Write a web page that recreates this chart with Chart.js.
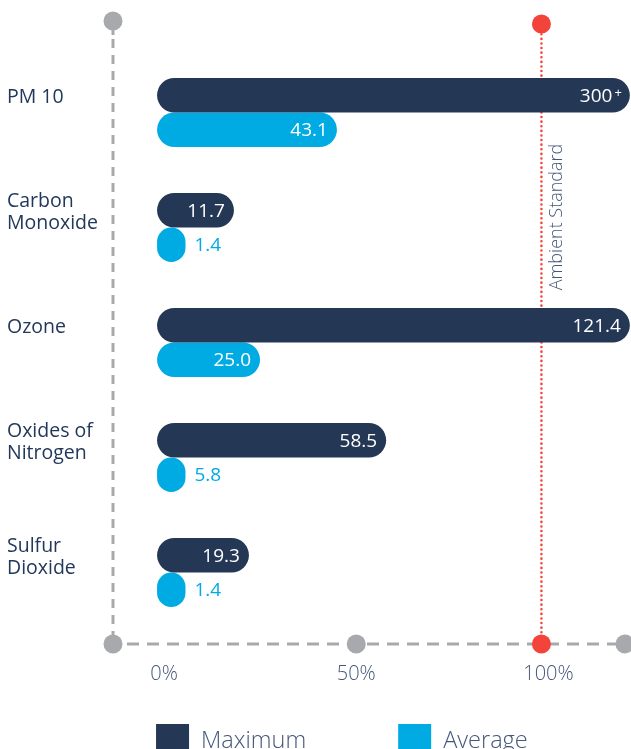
<!DOCTYPE html>
<html>
<head>
<meta charset="utf-8">
<script src="https://cdn.jsdelivr.net/npm/chart.js@4/dist/chart.umd.min.js"></script>
<style>
  html, body { margin: 0; padding: 0; background: #ffffff; overflow: hidden; }
  canvas { display: block; }
</style>
</head>
<body>
<canvas id="myChart" width="631" height="749"></canvas>
<script>
// Datos del gráfico (porcentaje del estándar ambiental)
const categorias = ['PM 10', ['Carbon', 'Monoxide'], 'Ozone', ['Oxides of', 'Nitrogen'], ['Sulfur', 'Dioxide']];
const maximoPct = [123, 20, 123, 59.6, 23.9];
const promedioPct = [46.8, 7.4, 26.8, 7.4, 7.4];
const maximoEtiquetas = ['300+', '11.7', '121.4', '58.5', '19.3'];
const promedioEtiquetas = ['43.1', '1.4', '25.0', '5.8', '1.4'];
const ticksX = [0, 50, 100];
const estandar = 100;

const azulOscuro = '#243856';
const cian = '#00abe4';
const gris = '#a7a9ac';
const rojo = '#f4433a';
const textoGris = '#45577a';

// Plugin para ejes punteados, puntos y etiquetas
const decoracion = {
    id: 'decoracion',
    beforeDatasetsDraw(chart) {
        const ctx = chart.ctx;
        const area = chart.chartArea;
        const x = chart.scales.x;
        const ejeX = area.left - 1;
        const arriba = area.top - 34;
        const abajo = area.bottom + 14;
        const xEstandar = x.getPixelForValue(estandar);

        ctx.save();
        ctx.strokeStyle = gris;
        ctx.lineWidth = 3;
        // eje vertical
        ctx.setLineDash([9, 7]);
        ctx.beginPath();
        ctx.moveTo(ejeX, arriba + 18);
        ctx.lineTo(ejeX, abajo);
        ctx.stroke();
        ctx.setLineDash([]);
        ctx.beginPath();
        ctx.moveTo(ejeX, arriba);
        ctx.lineTo(ejeX, arriba + 14);
        ctx.stroke();
        // eje horizontal
        ctx.setLineDash([12, 8]);
        ctx.beginPath();
        ctx.moveTo(ejeX + 14, abajo);
        ctx.lineTo(area.right, abajo);
        ctx.stroke();

        // linea del estandar (punteada roja)
        ctx.strokeStyle = rojo;
        ctx.lineWidth = 2.5;
        ctx.lineCap = 'round';
        ctx.setLineDash([0.1, 4.5]);
        ctx.beginPath();
        ctx.moveTo(xEstandar, arriba + 4);
        ctx.lineTo(xEstandar, abajo);
        ctx.stroke();
        ctx.setLineDash([]);

        // puntos
        const punto = (px, py, color) => {
            ctx.fillStyle = color;
            ctx.beginPath();
            ctx.arc(px, py, 9.5, 0, Math.PI * 2);
            ctx.fill();
        };
        punto(ejeX, arriba, gris);
        punto(ejeX, abajo, gris);
        punto(x.getPixelForValue(50) + 7, abajo, gris);
        punto(area.right - 6, abajo, gris);
        punto(xEstandar, arriba + 3, rojo);
        punto(xEstandar, abajo, rojo);
        ctx.restore();
    },
    afterDatasetsDraw(chart) {
        const ctx = chart.ctx;
        const area = chart.chartArea;
        const x = chart.scales.x;
        ctx.save();
        ctx.textBaseline = 'middle';
        const etiquetas = [maximoEtiquetas, promedioEtiquetas];
        chart.data.datasets.forEach((ds, i) => {
            chart.getDatasetMeta(i).data.forEach((barra, j) => {
                const texto = etiquetas[i][j];
                ctx.font = '400 19px "Open Sans", sans-serif';
                let ancho = ctx.measureText(texto).width;
                const fin = Math.min(barra.x, area.right);
                if (fin - barra.base > ancho + 22) {
                    ctx.fillStyle = '#ffffff';
                    ctx.textAlign = 'right';
                    if (texto.endsWith('+')) {
                        ctx.font = '400 13px "Open Sans", sans-serif';
                        ctx.fillText('+', fin - 8, barra.y - 2);
                        const anchoMas = ctx.measureText('+').width;
                        ctx.font = '400 19px "Open Sans", sans-serif';
                        ctx.fillText(texto.slice(0, -1), fin - 10 - anchoMas, barra.y + 1);
                    } else {
                        ctx.fillText(texto, fin - 9, barra.y + 1);
                    }
                } else {
                    ctx.fillStyle = ds.backgroundColor;
                    ctx.textAlign = 'left';
                    ctx.fillText(texto, fin + 9, barra.y + 1);
                }
            });
        });

        // texto del estandar
        const xEstandar = x.getPixelForValue(estandar);
        ctx.translate(xEstandar + 15, 217);
        ctx.rotate(-Math.PI / 2);
        ctx.textAlign = 'center';
        ctx.fillStyle = textoGris;
        ctx.font = '300 18px "Open Sans", sans-serif';
        ctx.fillText('Ambient Standard', 0, 0);
        ctx.restore();
    },
    afterDraw(chart) {
        // leyenda manual
        const ctx = chart.ctx;
        const x = chart.scales.x;
        ctx.save();
        let px = x.getPixelForValue(0) - 1;
        const py = 724;
        ctx.font = '300 23.5px "Open Sans", sans-serif';
        ctx.textBaseline = 'alphabetic';
        ctx.textAlign = 'left';
        chart.data.datasets.forEach((ds) => {
            ctx.fillStyle = ds.backgroundColor;
            ctx.fillRect(px, py, 33, 33);
            ctx.fillStyle = textoGris;
            ctx.fillText(ds.label, px + 45, py + 24);
            px += 45 + ctx.measureText(ds.label).width + 92;
        });
        ctx.restore();
    }
};

// Inicializar el gráfico
const ctx = document.getElementById('myChart').getContext('2d');
const chart = new Chart(ctx, {
    type: 'bar',
    data: {
        labels: categorias,
        datasets: [{
            label: 'Maximum',
            data: maximoPct,
            backgroundColor: azulOscuro,
            borderRadius: 20,
            borderSkipped: false
        }, {
            label: 'Average',
            data: promedioPct,
            backgroundColor: cian,
            borderRadius: 20,
            borderSkipped: false
        }]
    },
    options: {
        indexAxis: 'y',
        responsive: false,
        animation: false,
        devicePixelRatio: 1,
        categoryPercentage: 0.6,
        barPercentage: 1.0,
        layout: { padding: { top: 55, left: 7, right: 0, bottom: 0 } },
        plugins: {
            legend: { display: false },
            tooltip: { enabled: false }
        },
        scales: {
            x: {
                type: 'linear',
                min: -11.2,
                max: 123.3,
                grid: { display: false, drawTicks: false },
                border: { display: false },
                afterBuildTicks: (eje) => { eje.ticks = ticksX.map(v => ({ value: v })); },
                afterFit: (eje) => { eje.height = 119; },
                ticks: {
                    padding: 32,
                    labelOffset: 7,
                    color: textoGris,
                    font: { family: '"Open Sans", sans-serif', size: 20, weight: 300 },
                    callback: (v) => v + '%'
                }
            },
            y: {
                grid: { display: false, drawTicks: false },
                border: { display: false },
                afterFit: (eje) => { eje.width = 107; },
                ticks: {
                    crossAlign: 'far',
                    labelOffset: -15,
                    padding: 0,
                    color: '#22385a',
                    font: { family: '"Open Sans", sans-serif', size: 19.5, lineHeight: 1.13 }
                }
            }
        }
    },
    plugins: [decoracion]
});
</script>
</body>
</html>
